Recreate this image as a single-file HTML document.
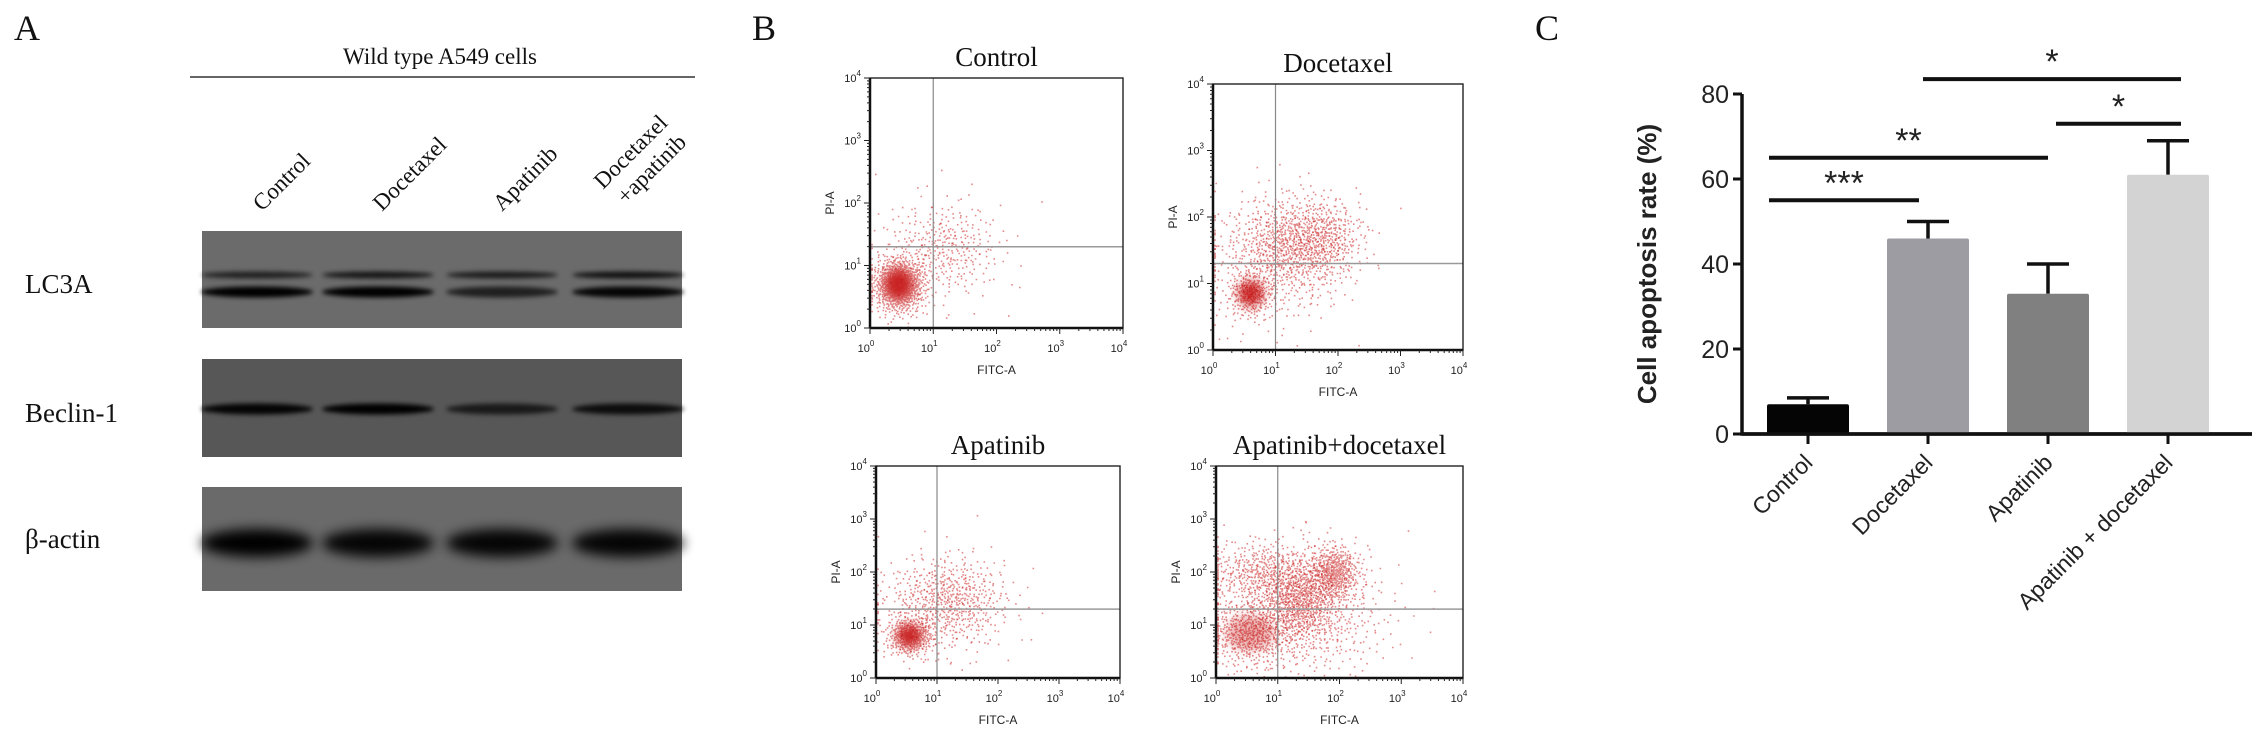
<!DOCTYPE html>
<html><head><meta charset="utf-8"><style>
html,body{margin:0;padding:0;background:#fff;}
svg{display:block;}
.tm{font-family:"Liberation Serif",serif;fill:#111;}
.ar{font-family:"Liberation Sans",sans-serif;fill:#222;}
</style></head><body>
<svg id="fig" width="2268" height="730" viewBox="0 0 2268 730" xmlns="http://www.w3.org/2000/svg">
<defs>
<filter id="b3" x="-50%" y="-100%" width="200%" height="300%"><feGaussianBlur stdDeviation="2.5"/></filter>
<filter id="b6" x="-50%" y="-100%" width="200%" height="300%"><feGaussianBlur stdDeviation="6"/></filter>
<filter id="bc" x="-50%" y="-50%" width="200%" height="200%"><feGaussianBlur stdDeviation="5"/></filter>
</defs>
<g id="panelA">
<text class="tm" x="14" y="40" font-size="36">A</text>
<text class="tm" x="440" y="64" font-size="23" text-anchor="middle">Wild type A549 cells</text>
<line x1="190" y1="77" x2="695" y2="77" stroke="#333" stroke-width="1.5"/>
<text class="tm" font-size="23" transform="translate(262,212) rotate(-45)">Control</text>
<text class="tm" font-size="23" transform="translate(382,212) rotate(-45)">Docetaxel</text>
<text class="tm" font-size="23" transform="translate(502,212) rotate(-45)">Apatinib</text>
<text class="tm" font-size="23" transform="translate(603,190) rotate(-45)">Docetaxel</text>
<text class="tm" font-size="23" transform="translate(626,205) rotate(-45)">+apatinib</text>
<text class="tm" x="25" y="293" font-size="27">LC3A</text>
<text class="tm" x="25" y="422" font-size="27">Beclin-1</text>
<text class="tm" x="25" y="548" font-size="27">β-actin</text>
<g id="blots"></g>
</g>
<g id="panelB">
<text class="tm" x="752" y="40" font-size="36">B</text>
<g id="flows"></g>
</g>
<g id="panelC">
<text class="tm" x="1535" y="40" font-size="36">C</text>
<g id="bars"></g>
</g>
</svg>
<script>
// ---------- Panel C data ----------
const categories = ["Control","Docetaxel","Apatinib","Apatinib + docetaxel"];
const meanValues = [7, 46, 33, 61];
const errorValues = [1.5, 4, 7, 8];
const barColors = ["#050505","#9d9ca3","#808080","#d3d3d3"];
const yTicks = [0,20,40,60,80];
const sigFrom = [0, 0, 1, 2];
const sigTo = [1, 2, 3, 3];
const sigLevel = [55, 65, 83.5, 73];
const sigLabel = ["***","**","*","*"];

// ---------- Panel A data ----------
const laneNames = ["Control","Docetaxel","Apatinib","Docetaxel+apatinib"];
const lc3aUpper = [0.7, 0.8, 0.75, 0.85];
const lc3aLower = [1.0, 1.0, 0.7, 0.95];
const beclin1 = [0.95, 1.0, 0.7, 0.85];
const betaActin = [1.0, 0.95, 0.95, 0.95];

// ---------- Panel B data (clusters: log10 FITC, log10 PI, spread x, spread y, events) ----------
const flowTitles = ["Control","Docetaxel","Apatinib","Apatinib+docetaxel"];
const flowClusterX = [[0.45,1.2,1.0],[0.6,1.25,0.9,1.8],[0.55,1.2,1.0],[0.55,1.35,1.9,0.8,1.4]];
const flowClusterY = [[0.7,1.3,1.2],[0.85,1.6,1.3,1.7],[0.8,1.5,1.3],[0.85,1.45,2.0,2.0,1.2]];
const flowClusterSX = [[0.2,0.4,0.6],[0.17,0.45,0.6,0.3],[0.18,0.45,0.6],[0.35,0.3,0.2,0.5,0.7]];
const flowClusterSY = [[0.22,0.35,0.5],[0.17,0.35,0.5,0.3],[0.18,0.4,0.5],[0.3,0.35,0.25,0.3,0.6]];
const flowClusterN = [[900,250,120],[280,700,350,300],[400,450,250],[500,600,500,500,700]];

const NS="http://www.w3.org/2000/svg";
function mk(tag, attrs, parent){const e=document.createElementNS(NS,tag);for(const k in attrs)e.setAttribute(k,attrs[k]);parent.appendChild(e);return e;}

// ---- blots ----
const blots=document.getElementById('blots');
const lanesX=[257,378,502,628];
function laneX(i){return lanesX[i];}
const boxes=[{y:231,h:97,c:"#6b6b6b",n:"lc3a-blot"},{y:359,h:98,c:"#575757",n:"beclin1-blot"},{y:487,h:104,c:"#6a6a6a",n:"beta-actin-blot"}];
boxes.forEach(b=>{const r=mk('rect',{x:202,y:b.y,width:480,height:b.h,fill:b.c},blots);

});
function band(arr, cy, h, name, blur){
  arr.forEach((v,i)=>{const e=mk('ellipse',{cx:laneX(i),cy:cy,rx:56,ry:h/2,fill:"#000",opacity:v,filter:blur},blots);
  
  });
}
band(lc3aUpper,275,7,'lc3a-upper-band','url(#b3)');
band(lc3aLower,292,11,'lc3a-lower-band','url(#b3)');
band(beclin1,409,11,'beclin1-band','url(#b3)');
band(betaActin,543,28,'beta-actin-band','url(#b6)');

// ---- flow plots ----
const flows=document.getElementById('flows');
const plotBoxes=[{x:870,y:78,w:253,h:250},{x:1213,y:84,w:250,h:266},{x:876,y:466,w:244,h:212},{x:1216,y:466,w:247,h:212}];
function halton(i,b){let f=1,r=0;while(i>0){f/=b;r+=f*(i%b);i=Math.floor(i/b);}return r;}
flowTitles.forEach((t,pi)=>{
  const B=plotBoxes[pi];
  const g=mk('g',{},flows);
  
  
  const sx=v=>B.x+v/4*B.w, sy=v=>B.y+B.h-v/4*B.h;
  const tt=mk('text',{x:B.x+B.w/2,y:B.y-12,'font-size':27,'text-anchor':'middle','class':'tm'},g);tt.textContent=t;
  
  
  let k=1;
  flowClusterX[pi].forEach((cx,ci)=>{
    const n=flowClusterN[pi][ci];
    let d='';
    for(let j=0;j<n;j++,k++){
      const u1=Math.max(1e-4,halton(k+pi*7919,2)),u2=halton(k+pi*7919,3);
      const r=Math.sqrt(-2*Math.log(u1));
      let lx=cx+flowClusterSX[pi][ci]*r*Math.cos(2*Math.PI*u2);
      let ly=flowClusterY[pi][ci]+flowClusterSY[pi][ci]*r*Math.sin(2*Math.PI*u2);
      lx=Math.max(0.02,Math.min(3.9,lx));ly=Math.max(0.02,Math.min(3.9,ly));
      d+=`M${sx(lx).toFixed(1)} ${sy(ly).toFixed(1)}h1.6v1.6h-1.6z`;
    }
    const p=mk('path',{d:d,fill:"#c81818",opacity:0.5},g);
    
    
  });
  const c0=mk('ellipse',{cx:sx(flowClusterX[pi][0]),cy:sy(flowClusterY[pi][0]),rx:flowClusterSX[pi][0]/4*B.w*1.1,ry:flowClusterSY[pi][0]/4*B.h*1.1,fill:"#c00000",opacity:pi==3?0.3:0.75,filter:'url(#bc)'},g);
  
  
  mk('line',{x1:sx(1),y1:B.y,x2:sx(1),y2:B.y+B.h,stroke:"#888","stroke-width":1.2},g);
  mk('line',{x1:B.x,y1:sy(1.3),x2:B.x+B.w,y2:sy(1.3),stroke:"#999","stroke-width":1.5},g);
  const fr=mk('rect',{x:B.x,y:B.y,width:B.w,height:B.h,fill:"none",stroke:"#222","stroke-width":1.4},g);
  
  
  mk('line',{x1:B.x,y1:B.y,x2:B.x,y2:B.y+B.h,stroke:"#111","stroke-width":2.5},g);
  mk('line',{x1:B.x,y1:B.y+B.h,x2:B.x+B.w,y2:B.y+B.h,stroke:"#111","stroke-width":2.5},g);
  let td='';
  for(let dec=0;dec<4;dec++)for(let m=1;m<10;m++){const v=dec+Math.log10(m);const L=m==1?6:3;
    td+=`M${sx(v)} ${B.y+B.h}v${L}M${B.x} ${sy(v)}h${-L}`;}
  td+=`M${sx(4)} ${B.y+B.h}v6M${B.x} ${sy(4)}h-6`;
  mk('path',{d:td,stroke:"#222","stroke-width":1,fill:"none"},g);
  for(let dec=0;dec<=4;dec++){
    const tx=mk('text',{x:sx(dec)-4,y:B.y+B.h+24,'font-size':11,'text-anchor':'middle','class':'ar'},g);
    tx.innerHTML='10<tspan dy="-6" font-size="8">'+dec+'</tspan>';
    
    
    const ty=mk('text',{x:B.x-9,y:sy(dec)+4,'font-size':11,'text-anchor':'end','class':'ar'},g);
    ty.innerHTML='10<tspan dy="-6" font-size="8">'+dec+'</tspan>';
    
    
  }
  const xl=mk('text',{x:B.x+B.w/2,y:B.y+B.h+46,'font-size':12,'text-anchor':'middle','class':'ar'},g);xl.textContent='FITC-A';
  
  
  const yl=mk('text',{'font-size':12,'text-anchor':'middle','class':'ar',transform:`translate(${B.x-36},${sy(2)}) rotate(-90)`},g);yl.textContent='PI-A';
  
  
});

// ---- bar chart ----
const bars=document.getElementById('bars');
const X0=1742, XEND=2252, Y0=434, PXPER=4.25, C0=1808, STEP=120, BW=82;
const yS=v=>Y0-v*PXPER, xS=i=>C0+i*STEP;
const ax=mk('path',{d:`M${X0} ${yS(80)}V${Y0}H${XEND}`,stroke:"#111","stroke-width":3.5,fill:"none"},bars);


yTicks.forEach(v=>{
  mk('line',{x1:X0-9,y1:yS(v),x2:X0,y2:yS(v),stroke:"#111","stroke-width":3},bars);
  const t=mk('text',{x:X0-13,y:yS(v)+9,'font-size':25,'text-anchor':'end','class':'ar'},bars);t.textContent=v;
  
  
});
const yt=mk('text',{'font-size':26,'font-weight':'bold','text-anchor':'middle','class':'ar',transform:`translate(1656,264) rotate(-90)`},bars);
yt.textContent='Cell apoptosis rate (%)';


categories.forEach((c,i)=>{
  const cx=xS(i);
  mk('line',{x1:cx,y1:yS(meanValues[i]+errorValues[i]),x2:cx,y2:yS(meanValues[i]),stroke:"#111","stroke-width":3.5},bars);
  mk('line',{x1:cx-21,y1:yS(meanValues[i]+errorValues[i]),x2:cx+21,y2:yS(meanValues[i]+errorValues[i]),stroke:"#111","stroke-width":3.5},bars);
  const r=mk('rect',{x:cx-BW/2,y:yS(meanValues[i]),width:BW,height:Y0-yS(meanValues[i]),fill:barColors[i],rx:2},bars);
  
  
  mk('line',{x1:cx,y1:Y0,x2:cx,y2:Y0+10,stroke:"#111","stroke-width":3},bars);
  const t=mk('text',{'font-size':23,'text-anchor':'end','class':'ar',transform:`translate(${cx+6},${Y0+30}) rotate(-45)`},bars);
  t.textContent=c;
  
  
});
mk('path',{d:`M${X0} ${Y0}H${XEND}`,stroke:"#111","stroke-width":3.5},bars);
const sigStartOff=[-39,-39,-5,8], sigEndOff=[-9,0,13,13];
sigFrom.forEach((f,i)=>{
  const xa=xS(f)+sigStartOff[i], xb=xS(sigTo[i])+sigEndOff[i];
  const l=mk('line',{x1:xa,y1:yS(sigLevel[i]),x2:xb,y2:yS(sigLevel[i]),stroke:"#111","stroke-width":4},bars);
  
  
  const t=mk('text',{x:(xa+xb)/2,y:yS(sigLevel[i])-6,'font-size':34,'text-anchor':'middle','class':'ar'},bars);
  t.textContent=sigLabel[i];
  
  
});
</script>
</body></html>
